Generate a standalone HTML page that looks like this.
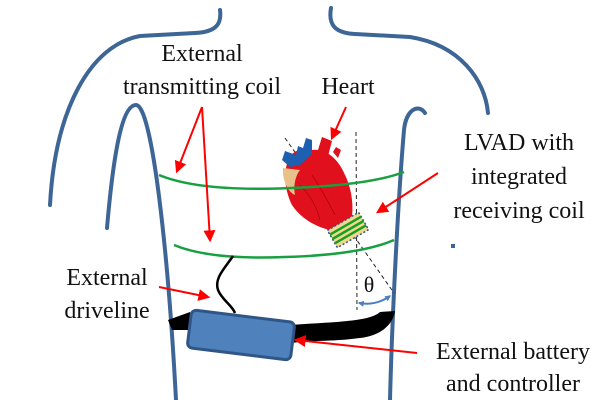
<!DOCTYPE html>
<html><head><meta charset="utf-8"><style>
html,body{margin:0;padding:0;background:#fff;}
svg{display:block}
</style></head><body>
<svg width="600" height="400" viewBox="0 0 600 400">
<defs>
<marker id="ar2" viewBox="0 0 10 10" markerWidth="12" markerHeight="12" refX="8" refY="5" orient="auto" markerUnits="userSpaceOnUse">
<path d="M0,0 L10,5 L0,10 z" fill="#f00"/></marker>
<marker id="bl" viewBox="0 0 10 10" markerWidth="6" markerHeight="6" refX="8" refY="5" orient="auto-start-reverse" markerUnits="userSpaceOnUse">
<path d="M0,0 L10,5 L0,10 z" fill="#4a7fc0"/></marker>
</defs>
<g fill="none" stroke="#3d6596" stroke-width="4" stroke-linecap="round">
<path d="M220,10 C222,25 215,32 195,33 L140,36 C90,45 55,110 50,205"/>
<path d="M107,228 C112,170 120,105 136,105 C152,105 168,250 176,400"/>
<path d="M331,8 C328,25 335,33 355,34 L410,37 C460,45 485,80 488,113"/>
<path d="M390,400 C392,320 398,200 404,130 C406,110 418,103 425,113"/>
</g>
<rect x="451" y="244" width="4" height="4" fill="#3d6596"/>
<g stroke="#222" stroke-width="1" stroke-dasharray="4,3" fill="none">
<line x1="356" y1="132" x2="357" y2="310"/>
<line x1="285" y1="138" x2="394" y2="293"/>
</g>
<path d="M359,303 Q376,306 390,296" fill="none" stroke="#4a7fc0" stroke-width="2" marker-start="url(#bl)" marker-end="url(#bl)"/>
<g>
<path d="M300,150 C285,152 280,180 292,205 C305,225 330,232 345,232 C355,225 355,195 345,175 C338,158 325,148 312,150 Z" fill="#e0101c"/>
<path d="M283,168 C282,180 288,192 295,195 C293,185 296,175 300,170 Z" fill="#e8c08a"/>
<path d="M318,150 L322,137 L332,141 L328,156 Z" fill="#e0101c"/>
<path d="M333,152 L336,147 L341,150 L338,158 Z" fill="#e0101c"/>
<path d="M282,160 L285,151 L296,155 L298,146 L303,148 L306,138 L312,140 L312,154 L300,165 L290,167 Z" fill="#1e5fb0"/>
<g stroke="#b00010" stroke-width="0.8" fill="none">
<path d="M300,185 Q315,200 320,220"/><path d="M312,175 Q325,195 335,215"/>
</g>
</g>
<g transform="translate(348,230) rotate(-30)">
<rect x="-18" y="-10" width="36" height="20" fill="#f0d890" stroke="#2a4f8a" stroke-width="1.5" stroke-dasharray="2,2"/>
<g stroke="#1aa020" stroke-width="2.5">
<line x1="-18" y1="-5" x2="18" y2="-5"/><line x1="-18" y1="0" x2="18" y2="0"/><line x1="-18" y1="5" x2="18" y2="5"/>
</g>
</g>
<path d="M159,175 Q200,192 291,188 Q370,185 404,172" fill="none" stroke="#18a040" stroke-width="2.5"/>
<path d="M174,245 Q210,260 285,257 Q360,255 394,240" fill="none" stroke="#18a040" stroke-width="2.5"/>
<path d="M233,256 C225,268 214,278 218,290 C222,300 232,305 235,313" fill="none" stroke="#000" stroke-width="2.5"/>
<path d="M168,320 L190,312 L195,330 L172,330 Z" fill="#000"/>
<path d="M290,325 C330,322 370,322 380,312 L395,311 C393,325 380,336 360,338 C330,342 310,340 292,343 Z" fill="#000"/>
<g transform="translate(241,335) rotate(7)">
<rect x="-52" y="-19" width="104" height="38" rx="5" fill="#4f81bd" stroke="#2f5687" stroke-width="3"/>
</g>
<g stroke="#f00" stroke-width="2" fill="none">
<line x1="202" y1="107" x2="177" y2="171" marker-end="url(#ar2)"/>
<line x1="202" y1="107" x2="210" y2="240" marker-end="url(#ar2)"/>
<line x1="346" y1="107" x2="332" y2="138" marker-end="url(#ar2)"/>
<line x1="438" y1="173" x2="378" y2="212" marker-end="url(#ar2)"/>
<line x1="159" y1="287" x2="208" y2="297" marker-end="url(#ar2)"/>
<line x1="417" y1="353" x2="296" y2="340" marker-end="url(#ar2)"/>
</g>
<g font-family="Liberation Serif, DejaVu Serif, serif" font-size="24" fill="#111" text-anchor="middle">
<text x="369" y="292" font-size="22">θ</text>
<text x="202" y="61">External</text>
<text x="202" y="94">transmitting coil</text>
<text x="348" y="94">Heart</text>
<text x="519" y="150">LVAD with</text>
<text x="519" y="184">integrated</text>
<text x="519" y="218">receiving coil</text>
<text x="107" y="285">External</text>
<text x="107" y="318">driveline</text>
<text x="513" y="359">External battery</text>
<text x="513" y="391">and controller</text>
</g>
</svg>
</body></html>
